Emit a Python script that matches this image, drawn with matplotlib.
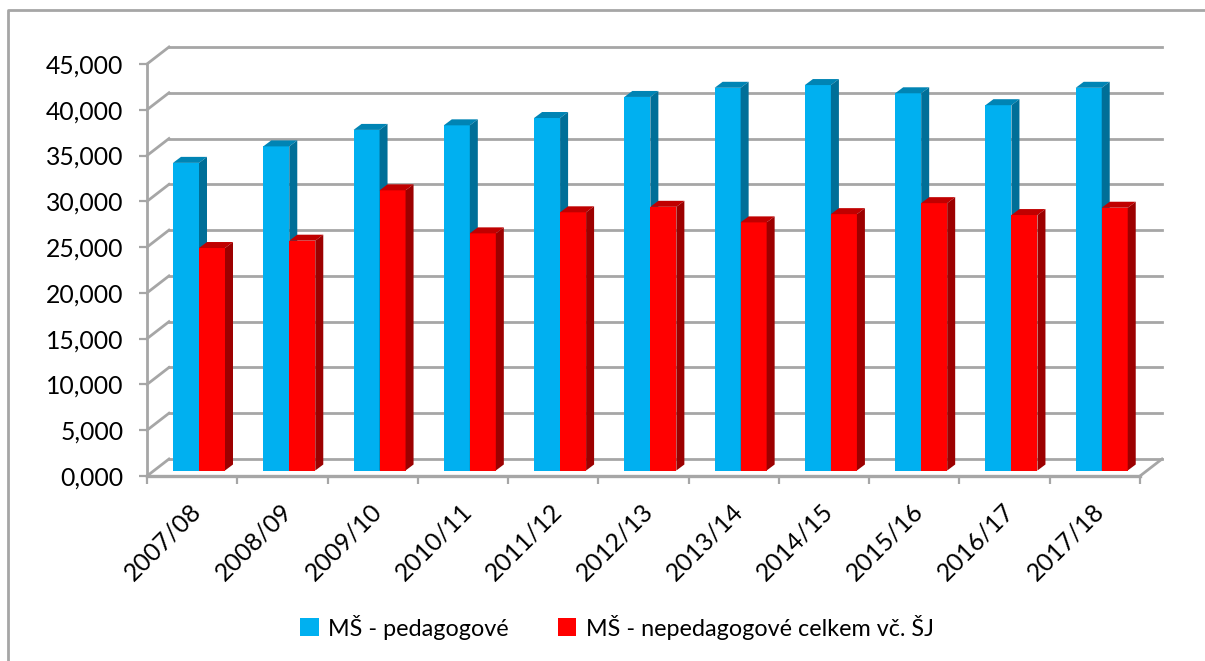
"""Czech kindergarten staff counts, drawn as a fake-3D Excel column chart."""
import matplotlib
matplotlib.use("Agg")
import matplotlib.pyplot as plt
from matplotlib.patches import Rectangle

years = ["2007/08", "2008/09", "2009/10", "2010/11", "2011/12", "2012/13",
         "2013/14", "2014/15", "2015/16", "2016/17", "2017/18"]
pedagogove = [33.6, 35.4, 37.2, 37.7, 38.5, 40.8, 41.8, 42.1, 41.2, 39.9, 41.8]
nepedagogove = [24.3, 25.1, 30.6, 25.9, 28.2, 28.8, 27.1, 28.0, 29.2, 27.9, 28.7]
y_ticks = [0, 5, 10, 15, 20, 25, 30, 35, 40, 45]
y_labels = ["0,000", "5,000", "10,000", "15,000", "20,000", "25,000",
            "30,000", "35,000", "40,000", "45,000"]
names = ["MŠ - pedagogové", "MŠ - nepedagogové celkem vč. ŠJ"]

W, H = 1205, 661
plt.rcParams["font.family"] = ["Lato", "DejaVu Sans"]
GRID = "#a6a6a6"
BLUE = ("#00b0f0", "#0084b4", "#006f98")
RED = ("#ff0000", "#c00000", "#9c0000")

fig = plt.figure(figsize=(W / 100, H / 100), dpi=100)
L, R, T, B = 147, 1140, 64, 476
ax = fig.add_axes([L / W, 1 - B / H, (R - L) / W, (B - T) / H])
ax.set_xlim(0, len(years))
ax.set_ylim(0, 45)
ax.patch.set_visible(False)
for s in ax.spines.values():
    s.set_visible(False)

px_x = len(years) / (R - L)  # data units per pixel
px_y = 45 / (B - T)
wall_dx, wall_dy = 22 * px_x, 17 * px_y

# back wall gridlines and the slanted floor/side lines
for v in y_ticks:
    ax.plot([0, wall_dx], [v, v + wall_dy], color=GRID, lw=2, clip_on=False, zorder=1)
    ax.plot([wall_dx, len(years) + wall_dx], [v + wall_dy, v + wall_dy], color=GRID, lw=2,
            clip_on=False, zorder=1)
ax.plot([len(years), len(years) + wall_dx], [0, wall_dy], color=GRID, lw=2, clip_on=False, zorder=1)
ax.plot([0, 0], [0, 45], color=GRID, lw=2, clip_on=False, zorder=2)
ax.plot([0, len(years)], [0, 0], color=GRID, lw=2.4, clip_on=False, zorder=2)

# bars: front, top and side face
bar_w = 26 * px_x
shift_x, shift_y = 26 * px_x, 5.5 * px_y
depth_x, depth_y = 8 * px_x, 6 * px_y


def draw_bar(x0, val, cols, z):
    top = val + shift_y
    ax.add_patch(Rectangle((x0, shift_y), bar_w, val, fc=cols[0], ec="none", zorder=z))
    ax.fill([x0, x0 + depth_x, x0 + bar_w + depth_x, x0 + bar_w],
            [top, top + depth_y, top + depth_y, top], color=cols[1], lw=0, zorder=z)
    ax.fill([x0 + bar_w, x0 + bar_w + depth_x, x0 + bar_w + depth_x, x0 + bar_w],
            [shift_y, shift_y + depth_y, top + depth_y, top], color=cols[2], lw=0, zorder=z)


for i in range(len(years)):
    draw_bar(i + shift_x, pedagogove[i], BLUE, 3)
    draw_bar(i + shift_x + bar_w, nepedagogove[i], RED, 4)

ax.set_yticks(y_ticks)
ax.set_yticklabels(y_labels, fontsize=17.8, color="black")
ax.set_xticks(range(len(years) + 1))
ax.set_xticklabels([""] * (len(years) + 1))
ax.tick_params(axis="y", length=6, width=1.6, color=GRID, pad=11)
ax.tick_params(axis="x", length=6, width=1.6, color=GRID)

# category labels rotated 45, anchored under each category
for i, lab in enumerate(years):
    ax.annotate(lab, (i + 0.5, 0), xytext=(-2, -17), textcoords="offset points", rotation=45,
                rotation_mode="anchor", ha="right", va="top", fontsize=17.8, color="black",
                annotation_clip=False)

# legend
handles = [Rectangle((0, 0), 1, 1, fc=BLUE[0]), Rectangle((0, 0), 1, 1, fc=RED[0])]
fig.legend(handles, names, loc="center", bbox_to_anchor=(617 / W, 1 - 627 / H), ncol=2, frameon=False,
           fontsize=16.8, handlelength=0.8, handleheight=0.8, handletextpad=0.4, columnspacing=2.1)

# outer chart border
fig.add_artist(plt.Line2D([8 / W, 8 / W, 1.0], [0, 1 - 10 / H, 1 - 10 / H],
                          color=GRID, lw=2, transform=fig.transFigure))

fig.savefig("out.png", dpi=100)
